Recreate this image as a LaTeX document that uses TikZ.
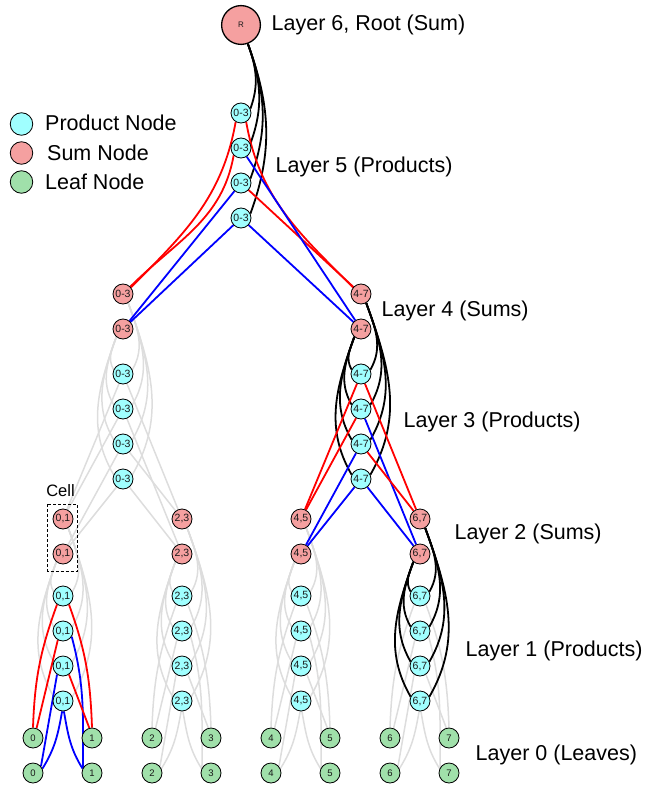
\documentclass[tikz,border=0pt]{standalone}
\usepackage{fontspec}
\setmainfont{Liberation Sans}
\usetikzlibrary{backgrounds}
\definecolor{prodc}{RGB}{160,255,255}
\definecolor{sumc}{RGB}{245,160,160}
\definecolor{leafc}{RGB}{160,224,170}
\definecolor{edgegray}{RGB}{221,221,221}
\tikzset{
  nd/.style={circle, draw=black, line width=0.8pt, minimum size=20pt, inner sep=0pt, font=\fontsize{10.5}{10.5}\selectfont, text=black!90},
  prod/.style={nd, fill=prodc},
  sumn/.style={nd, fill=sumc},
  leaf/.style={nd, fill=leafc, font=\fontsize{9.5}{9.5}\selectfont},
  lbl/.style={anchor=west, inner sep=0pt, font=\fontsize{21.5}{22}\selectfont},
  ge/.style={draw=edgegray, line width=1.5pt},
  re/.style={draw=red, line width=1.8pt},
  be/.style={draw=blue, line width=1.8pt},
  ke/.style={draw=black, line width=1.8pt},
}
% sum pair -> 4 products (curves)
\newcommand\sumprod[4]{%
  \foreach \k in {1,2,3,4}{%
    \draw[#4] (#1.-60) to[out=-70,in=60] (#3\k.25);
    \draw[#4] (#2.-130) to[out=-110,in=120] (#3\k.155);
  }}
% 4 products -> two sum pairs (straight)
\newcommand\prodsum[7]{%
  \draw[#6] (#11) -- (#2); \draw[#6] (#11) -- (#4);
  \draw[#6] (#12) -- (#2); \draw[#7] (#12) -- (#5);
  \draw[#7] (#13) -- (#3); \draw[#6] (#13) -- (#4);
  \draw[#7] (#14) -- (#3); \draw[#7] (#14) -- (#5);
}
% 4 products -> 4 leaves
\newcommand\prodleaf[7]{%
  \draw[#6] (#11.-125) to[out=-110,in=88] (#2.north);
  \draw[#6] (#11.-55) to[out=-70,in=92] (#3.north);
  \draw[#6] (#12.-120) -- (#2.70);
  \draw[#7] (#12.-33) to[out=-75,in=90] (#5.150);
  \draw[#7] (#13.-125) -- (#4.40);
  \draw[#6] (#13.-55) -- (#3.105);
  \draw[#7] (#14.-95) to[out=-100,in=58] (#4.25);
  \draw[#7] (#14.-85) to[out=-80,in=122] (#5.155);
}
\begin{document}
\begin{tikzpicture}[x=1pt,y=1pt]
\useasboundingbox (0,0) rectangle (645,-786);
% ---------- nodes ----------
\node[sumn, minimum size=38.8pt, line width=1.3pt, font=\fontsize{8}{8}\selectfont] (R) at (241,-25) {R};
\foreach \k/\y in {1/113,2/148,3/183,4/218} \node[prod] (v\k) at (241,-\y) {0-3};
\node[sumn] (uL1) at (123,-294) {0-3};
\node[sumn] (uL2) at (123,-329) {0-3};
\node[sumn] (uR1) at (361,-294) {4-7};
\node[sumn] (uR2) at (361,-329) {4-7};
\foreach \k/\y in {1/374,2/409,3/444,4/479} {
  \node[prod] (tL\k) at (123,-\y) {0-3};
  \node[prod] (tR\k) at (361,-\y) {4-7};
}
\foreach \g/\x/\lab in {1/63/{0,1},2/182/{2,3},3/301/{4,5},4/420/{6,7}} {
  \node[sumn] (s\g1) at (\x,-519) {\lab};
  \node[sumn] (s\g2) at (\x,-554) {\lab};
  \foreach \k/\y in {1/596,2/631,3/666,4/701} \node[prod] (q\g\k) at (\x,-\y) {\lab};
}
\foreach \i/\x in {0/33,1/92,2/152,3/211,4/271,5/330,6/390,7/449} {
  \node[leaf] (la\i) at (\x,-738) {\i};
  \node[leaf] (lb\i) at (\x,-773) {\i};
}
% ---------- edges ----------
\begin{pgfonlayer}{background}
\sumprod{uL1}{uL2}{tL}{ge}
\sumprod{s11}{s12}{q1}{ge}
\sumprod{s21}{s22}{q2}{ge}
\sumprod{s31}{s32}{q3}{ge}
\prodsum{tL}{s11}{s12}{s21}{s22}{ge}{ge}
\prodleaf{q2}{la2}{la3}{lb2}{lb3}{ge}{ge}
\prodleaf{q3}{la4}{la5}{lb4}{lb5}{ge}{ge}
\prodleaf{q4}{la6}{la7}{lb6}{lb7}{ge}{ge}
% root
\foreach \k in {1,2,3,4} \draw[ke] (R.-70) to[out=-70,in=70] (v\k.25);
% layer 5 -> layer 4
\draw[re] (v1.-121) to[out=-100,in=45] (uL1.40);
\draw[re] (v2.-135) to[out=-100,in=45] (uL1.45);
\draw[re] (v1.-60) to[out=-80,in=135] (uR1.140);
\draw[re] (v3) -- (uR1);
\draw[be] (v2) -- (uR2);
\draw[be] (v4) -- (uR2);
\draw[be] (v3) -- (uL2);
\draw[be] (v4) -- (uL2);
\sumprod{uR1}{uR2}{tR}{ke}
\prodsum{tR}{s31}{s32}{s41}{s42}{re}{be}
\sumprod{s41}{s42}{q4}{ke}
\prodleaf{q1}{la0}{la1}{lb0}{lb1}{re}{be}
\end{pgfonlayer}
% ---------- labels ----------
\node[lbl] (t6) at (271.5,-24.5) {Layer 6, Root (Sum)};
\node[lbl] (t5) at (275.5,-167) {Layer 5 (Products)};
\node[lbl] (t4) at (381.5,-311) {Layer 4 (Sums)};
\node[lbl] (t3) at (403.5,-422) {Layer 3 (Products)};
\node[lbl] (t2) at (454.5,-534) {Layer 2 (Sums)};
\node[lbl] (t1) at (465.5,-651) {Layer 1 (Products)};
\node[lbl] (t0) at (475.5,-755) {Layer 0 (Leaves)};
% legend
\node[prod, minimum size=22.5pt] (lg1) at (21.5,-124) {};
\node[sumn, minimum size=22.5pt] (lg2) at (21.5,-153) {};
\node[leaf, minimum size=22.5pt] (lg3) at (21.5,-182) {};
\node[lbl] (lt1) at (45,-123) {Product Node};
\node[lbl] (lt2) at (47,-153) {Sum Node};
\node[lbl] (lt3) at (45,-182) {Leaf Node};
% cell
\node[inner sep=0pt, font=\fontsize{16.5}{17}\selectfont] (cell) at (60.5,-491) {Cell};
\draw[line width=0.9pt, dash pattern=on 3pt off 2pt] (47.7,-504) rectangle (77.3,-571);
\end{tikzpicture}
\end{document}
